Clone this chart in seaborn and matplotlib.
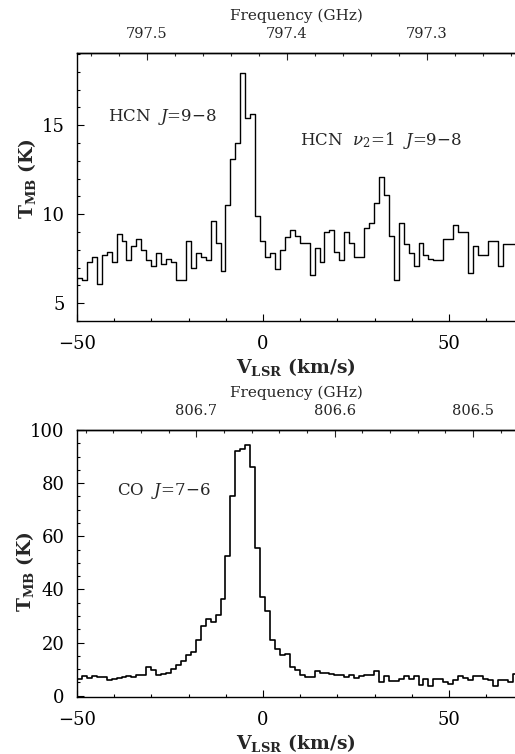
import numpy as np
import pandas as pd
import matplotlib
matplotlib.use("Agg")
import matplotlib.pyplot as plt
import seaborn as sns
from matplotlib.ticker import FixedLocator, FormatStrFormatter, MultipleLocator

# ---------------- data ----------------
C_KMS = 299792.458
V_START = -50.0      # km/s, left edge of first channel
DV = 1.33            # km/s channel width

hcn_values = [
    6.4, 6.3, 7.3, 7.6, 6.1, 7.7, 7.9, 7.3, 8.9, 8.5,
    7.4, 8.2, 8.6, 8.0, 7.4, 7.1, 7.8, 7.2, 7.5, 7.3,
    6.3, 6.3, 8.5, 7.0, 7.8, 7.6, 7.4, 9.6, 8.4, 6.8,
    10.5, 13.1, 14.0, 17.9, 15.4, 15.6, 9.9, 8.5, 7.6, 7.8,
    6.9, 8.0, 8.7, 9.1, 8.8, 8.4, 8.4, 6.6, 8.1, 7.3,
    9.0, 9.1, 7.9, 7.4, 9.0, 8.4, 7.6, 7.6, 9.2, 9.5,
    10.6, 12.1, 11.1, 8.8, 6.3, 9.5, 8.3, 7.8, 7.1, 8.4,
    7.7, 7.5, 7.4, 7.4, 8.6, 8.6, 9.4, 9.0, 9.0, 6.7,
    8.2, 7.7, 7.7, 8.5, 8.5, 7.1, 8.3, 8.3, 8.3,
]

co_values = [
    6.4, 7.3, 6.7, 7.3, 6.9, 7.0, 6.0, 6.2, 6.7, 7.0,
    7.4, 7.2, 7.9, 7.9, 10.8, 9.6, 7.9, 8.0, 8.7, 9.9,
    11.4, 13.0, 15.2, 16.5, 20.9, 26.2, 28.7, 27.8, 30.3, 36.2,
    52.6, 75.2, 92.2, 92.8, 94.5, 85.9, 55.7, 37.0, 32.0, 20.9,
    17.5, 15.2, 15.8, 10.8, 9.6, 7.9, 7.0, 7.0, 9.2, 8.7,
    8.5, 8.3, 7.9, 7.7, 7.0, 7.9, 6.7, 7.3, 7.9, 7.9,
    9.2, 5.2, 7.3, 5.4, 5.4, 6.4, 7.3, 6.4, 7.3, 3.9,
    6.4, 3.6, 6.4, 6.4, 5.2, 4.5, 5.8, 7.3, 6.7, 6.0,
    7.3, 7.3, 6.4, 5.8, 3.6, 5.8, 5.8, 5.2, 8.3,
]

hcn_rest_ghz = 797.417
co_rest_ghz = 806.6518

velocity_ticks = [-50, 0, 50]
hcn_freq_ticks = [797.5, 797.4, 797.3]
co_freq_ticks = [806.7, 806.6, 806.5]
hcn_y_ticks = [5, 10, 15]
co_y_ticks = [0, 20, 40, 60, 80, 100]

hcn_label = "HCN  $J$=9\u22128"
hcn_vib_label = "HCN  $\\nu_2$=1  $J$=9\u22128"
co_label = "CO  $J$=7\u22126"

# ---------------- style ----------------
sns.set_style("ticks")
plt.rcParams["font.family"] = ["DejaVu Serif"]
plt.rcParams["mathtext.fontset"] = "dejavuserif"
plt.rcParams["axes.linewidth"] = 1.0

fig = plt.figure(figsize=(5.15, 7.54), dpi=100)
ax1 = fig.add_axes([0.1495, 0.5743, 0.8505, 0.3554])
ax2 = fig.add_axes([0.1495, 0.0756, 0.8505, 0.3541])

XLIM = (-50, 67.7)


def spectrum_frame(values):
    n = len(values)
    edges = V_START + DV * np.arange(n + 1)
    return pd.DataFrame({"v": edges, "T": list(values) + [values[-1]]})


def style_axes(ax, rest, freq_ticks, yticks, ymin, ylim, ylab_x, ylab_y):
    ax.set_xlim(*XLIM)
    ax.set_ylim(*ylim)
    ax.xaxis.set_major_locator(FixedLocator(velocity_ticks))
    ax.xaxis.set_minor_locator(MultipleLocator(10))
    ax.yaxis.set_major_locator(FixedLocator(yticks))
    ax.yaxis.set_minor_locator(MultipleLocator(ymin))
    ax.tick_params(which="both", direction="in", top=False, right=False,
                   width=0.8, colors="black")
    ax.tick_params(which="major", length=5)
    ax.tick_params(which="minor", length=2.5)
    ax.tick_params(axis="x", labelsize=13, pad=10)
    ax.tick_params(axis="y", labelsize=13, pad=9)
    ax.spines["right"].set_visible(False)
    for s in ("left", "bottom", "top"):
        ax.spines[s].set_color("black")
    ax.set_xlabel(r"$\mathbf{V_{LSR}}$ (km/s)", fontsize=13.5,
                  fontweight="bold", labelpad=2)
    ax.set_ylabel(r"$\mathbf{T_{MB}}$ (K)", fontsize=13.5, fontweight="bold")
    ax.yaxis.set_label_coords(ylab_x, ylab_y)

    def fwd(v):
        return rest * (1.0 - np.asarray(v) / C_KMS)

    def inv(f):
        return C_KMS * (1.0 - np.asarray(f) / rest)

    f_lo, f_hi = sorted(fwd(np.array(XLIM)))
    minor = [round(f, 2) for f in np.arange(np.ceil(f_lo * 50) / 50, f_hi, 0.02)]

    sec = ax.secondary_xaxis("top", functions=(fwd, inv))
    sec.xaxis.set_major_locator(FixedLocator(freq_ticks))
    sec.xaxis.set_minor_locator(FixedLocator(minor))
    sec.xaxis.set_major_formatter(FormatStrFormatter("%.1f"))
    sec.tick_params(which="both", direction="in", width=0.8)
    sec.tick_params(which="major", length=5, labelsize=10.5, pad=9)
    sec.tick_params(which="minor", length=2.5)
    sec.set_xlabel("Frequency (GHz)", fontsize=11, labelpad=5)
    sec.spines["top"].set_color("black")


df_hcn = spectrum_frame(hcn_values)
df_co = spectrum_frame(co_values)

sns.lineplot(data=df_hcn, x="v", y="T", ax=ax1, drawstyle="steps-post",
             color="black", linewidth=1.0, estimator=None, sort=False)
sns.lineplot(data=df_co, x="v", y="T", ax=ax2, drawstyle="steps-post",
             color="black", linewidth=1.2, estimator=None, sort=False)

style_axes(ax1, hcn_rest_ghz, hcn_freq_ticks, hcn_y_ticks, 1,
           (4.0, 19.05), -0.088, 0.53)
style_axes(ax2, co_rest_ghz, co_freq_ticks, co_y_ticks, 5,
           (-0.5, 100.0), -0.094, 0.47)

ax1.text(-41.7, 15.45, hcn_label, fontsize=12, va="center", ha="left")
ax1.text(9.9, 14.16, hcn_vib_label, fontsize=12, va="center", ha="left")
ax2.text(-39.2, 77.0, co_label, fontsize=12, va="center", ha="left")

fig.savefig("out.png", dpi=100)
